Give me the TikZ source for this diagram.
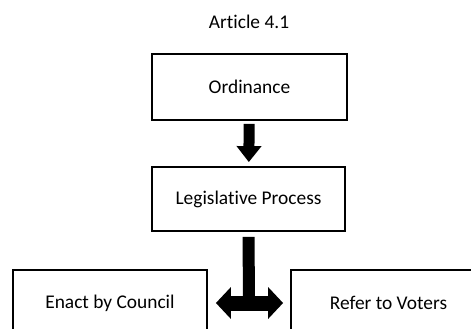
\documentclass[tikz,border=0pt]{standalone}
\usepackage{fontspec}
\setmainfont{Carlito}[Ligatures={NoCommon}]
\usepackage{tikz}
\usetikzlibrary{positioning,calc,arrows.meta}

\begin{document}
\begin{tikzpicture}[x=1pt, y=1pt,
    art block/.style={draw, line width=1.8pt, rectangle, minimum width=195pt, minimum height=66pt, align=center, font=\fontsize{19.4}{23}\selectfont},
    fat arrow/.style={line width=11pt, -{Triangle[width=24pt, length=16pt]}},
    fork arrow/.style={line width=15pt, {Triangle[width=31pt, length=15pt]}-{Triangle[width=31pt, length=15pt]}}]
    \useasboundingbox (0,0) rectangle (471,-329);
    \clip (0,0) rectangle (471,-329);

    \node[font=\fontsize{19.4}{23}\selectfont] (title) at (249,-22) {Article 4.1};

    \node[art block] (ord) at (249.5,-87) {Ordinance};
    \node[art block, minimum width=193pt, minimum height=64pt] (leg) at (248.5,-199) {Legislative Process};
    \node[art block, minimum width=194pt] (enact) at (110,-303) {Enact by Council};
    \node[art block] (refer) at (388.5,-303) {Refer to Voters};
    \coordinate (fork) at (249,-302);

    \draw[fat arrow, shorten <=3pt, shorten >=4pt] (ord) -- (leg);
    \draw[line width=12pt, shorten <=5pt] (leg.south) -- (fork);
    \draw[fork arrow, shorten <=8pt, shorten >=7pt] (enact) -- (refer);
\end{tikzpicture}
\end{document}
